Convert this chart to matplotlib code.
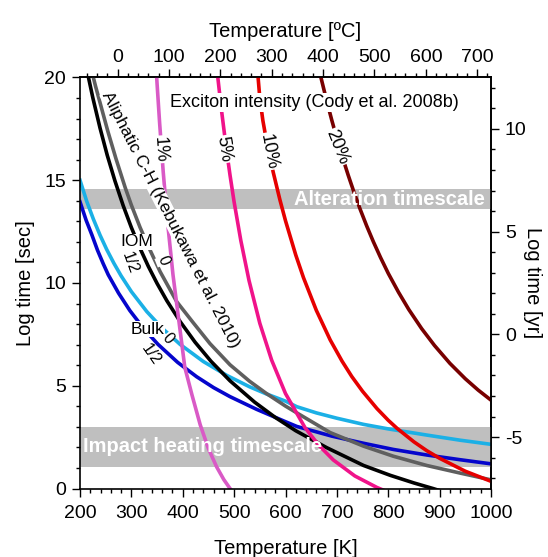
import matplotlib
matplotlib.use("Agg")
import matplotlib.pyplot as plt
from matplotlib.ticker import MultipleLocator

plt.rcParams["font.family"] = ["Liberation Sans", "DejaVu Sans"]
plt.rcParams["axes.unicode_minus"] = False

# Exciton intensity curves (Cody et al. 2008b): temperature [K] vs log time [sec]
T_1pct = [345, 350, 355, 362, 370, 381, 392, 404, 418, 434, 450, 466, 480, 492, 500]
y_1pct = [21.84, 19.70, 17.78, 15.40, 13.06, 10.40, 8.25, 5.9, 4.55, 3.10, 1.94, 1.05, 0.43, 0.0, -0.24]

T_5pct = [462, 466, 475, 485, 492, 500, 513, 529, 550, 573, 600, 638, 665, 693, 735, 778, 800]
y_5pct = [21.48, 20.51, 18.49, 16.50, 15.25, 13.94, 12.07, 10.12, 8.04, 6.25, 4.62, 2.96, 2.10,
          1.39, 0.61, 0.05, -0.18]

T_10pct = [546, 550, 556, 566, 576, 589, 600, 620, 635, 660, 687, 710, 729, 750, 778, 800, 817,
           850, 875, 900, 950, 1000]
y_10pct = [20.2, 19.0, 17.9, 16.5, 15.4, 14.06, 13.03, 11.36, 10.26, 8.67, 7.23, 6.20, 5.45, 4.73,
           3.89, 3.32, 2.93, 2.27, 1.84, 1.47, 0.84, 0.35]

T_20pct = [665, 669, 680, 690, 700, 710, 722, 733, 745, 758, 771, 785, 800, 820, 840, 865, 890,
           920, 950, 975, 1000]
y_20pct = [20.43, 20.0, 18.88, 17.93, 17.03, 16.19, 15.25, 14.44, 13.61, 12.78, 12.01, 11.24, 10.47,
           9.55, 8.71, 7.78, 6.96, 6.09, 5.34, 4.79, 4.30]

# Aliphatic C-H (Kebukawa et al. 2010): IOM order 1/2 and 0
T_iom_half = [205, 215, 225, 239, 253, 268, 284, 300, 317, 333, 350, 369, 395, 424, 455, 492,
              540, 580, 620, 680, 752, 804, 850, 887, 910]
y_iom_half = [21.46, 20.18, 19.01, 17.54, 16.22, 14.97, 13.77, 12.70, 11.68, 10.81, 9.98, 9.14,
              8.12, 7.12, 6.19, 5.24, 4.20, 3.46, 2.81, 1.99, 1.12, 0.64, 0.27, 0.0, -0.18]

T_iom_zero = [220, 230, 242, 254, 270, 288, 300, 317, 336, 356, 388, 420, 453, 492, 530, 563,
              600, 622, 687, 752, 810, 875, 940, 1000]
y_iom_zero = [20.6, 19.6, 18.5, 17.4, 16.05, 14.64, 13.79, 12.70, 11.62, 10.55, 9.1, 8.08, 7.05,
              6.02, 5.22, 4.62, 4.01, 3.68, 2.72, 2.06, 1.57, 1.12, 0.75, 0.42]

# Bulk order 0 and 1/2
T_bulk_zero = [200, 213, 226, 239, 252, 266, 280, 300, 330, 360, 395, 440, 486, 530, 563,
               600, 622, 660, 700, 752, 800, 875, 940, 1000]
y_bulk_zero = [15.0, 13.98, 13.11, 12.33, 11.63, 10.96, 10.35, 9.58, 8.61, 7.80, 7.01, 6.18, 5.50,
               4.95, 4.60, 4.25, 3.98, 3.68, 3.42, 3.12, 2.90, 2.60, 2.35, 2.15]

T_bulk_half = [200, 212, 223, 234, 245, 255, 275, 297, 325, 352, 390, 427, 460, 492, 544,
               600, 622, 690, 752, 810, 875, 940, 1000]
y_bulk_half = [13.95, 13.05, 12.35, 11.6, 10.95, 10.40, 9.51, 8.66, 7.75, 7.01, 6.14, 5.44, 4.91,
               4.47, 3.85, 3.25, 3.02, 2.55, 2.2, 1.9, 1.63, 1.40, 1.20]

# timescale bands [log sec]
alteration_band = (13.6, 14.55)
impact_band = (1.05, 3.0)

LOG_YR = 7.499  # log10(seconds per year)

fig = plt.figure(figsize=(5.48, 5.57), dpi=100)
ax = fig.add_axes([80 / 548, 68.5 / 557, 411 / 548, 411 / 557])

ax.axhspan(*alteration_band, color="#bfbfbf", lw=0, zorder=1)
ax.axhspan(*impact_band, color="#bfbfbf", lw=0, zorder=1)

lw = 2.6
curves = [
    (T_bulk_zero, y_bulk_zero, "#1bb0e6"),
    (T_bulk_half, y_bulk_half, "#0505cc"),
    (T_iom_zero, y_iom_zero, "#5f5f5f"),
    (T_iom_half, y_iom_half, "#000000"),
    (T_1pct, y_1pct, "#d95ac6"),
    (T_5pct, y_5pct, "#f0138a"),
    (T_10pct, y_10pct, "#e60000"),
    (T_20pct, y_20pct, "#780000"),
]
for T, y, c in curves:
    ax.plot(T, y, color=c, lw=lw, zorder=2, solid_joinstyle="round")

box = dict(facecolor="white", edgecolor="none", pad=0.6)
thin = dict(facecolor="white", edgecolor="none", pad=0.1)
ax.text(375, 18.8, "Exciton intensity (Cody et al. 2008b)", fontsize=13, va="center",
        ha="left", bbox=box, zorder=3)
for xt, yt, s, rot in [(355, 16.5, "1%", -86), (479, 16.5, "5%", -81),
                       (566, 16.4, "10%", -79), (700, 16.6, "20%", -68)]:
    ax.text(xt, yt, s, fontsize=13, rotation=rot, ha="center", va="center",
            rotation_mode="anchor", bbox=box, zorder=3)

ax.text(377, 13.1, "Aliphatic C-H (Kebukawa et al. 2010)", fontsize=12.5, rotation=-63,
        ha="center", va="center", rotation_mode="anchor", bbox=thin, zorder=3)
ax.text(310, 12.0, "IOM", fontsize=12.5, ha="center", va="center", bbox=box, zorder=3)
ax.text(297, 11.0, "1/2", fontsize=11.5, rotation=-70, ha="center", va="center",
        rotation_mode="anchor", bbox=thin, zorder=3)
ax.text(362, 11.1, "0", fontsize=11.5, rotation=-68, ha="center", va="center",
        rotation_mode="anchor", bbox=thin, zorder=3)
ax.text(331, 7.76, "Bulk", fontsize=12.5, ha="center", va="center", bbox=box, zorder=3)
ax.text(371, 7.3, "0", fontsize=11.5, rotation=-50, ha="center", va="center",
        rotation_mode="anchor", bbox=thin, zorder=3)
ax.text(338, 6.5, "1/2", fontsize=11.5, rotation=-55, ha="center", va="center",
        rotation_mode="anchor", bbox=thin, zorder=3)

ax.text(988, sum(alteration_band) / 2, "Alteration timescale", color="white", fontsize=14.5,
        fontweight="bold", ha="right", va="center", zorder=4)
ax.text(206, sum(impact_band) / 2, "Impact heating timescale", color="white", fontsize=14.5,
        fontweight="bold", ha="left", va="center", zorder=4)

ax.set_xlim(200, 1000)
ax.set_ylim(0, 20)
ax.xaxis.set_major_locator(MultipleLocator(100))
ax.xaxis.set_minor_locator(MultipleLocator(20))
ax.yaxis.set_major_locator(MultipleLocator(5))
ax.yaxis.set_minor_locator(MultipleLocator(1))
ax.tick_params(which="both", direction="out", labelsize=14, width=1, top=False, right=False)
ax.tick_params(which="major", length=6)
ax.tick_params(which="minor", length=3)
ax.tick_params(axis="x", pad=6)
ax.tick_params(axis="y", pad=4)
ax.set_xlabel("Temperature [K]", fontsize=14.5, labelpad=12)
ax.set_ylabel("Log time [sec]", fontsize=14.5, labelpad=7)

top = ax.secondary_xaxis("top", functions=(lambda k: k - 273.15, lambda c: c + 273.15))
top.xaxis.set_major_locator(MultipleLocator(100))
top.xaxis.set_minor_locator(MultipleLocator(20))
top.tick_params(which="both", direction="out", labelsize=14, width=1, pad=2)
top.tick_params(which="major", length=6)
top.tick_params(which="minor", length=3)
top.set_xlabel("Temperature [ºC]", fontsize=14.5, labelpad=9)

right = ax.secondary_yaxis("right", functions=(lambda s: s - LOG_YR, lambda yr: yr + LOG_YR))
right.yaxis.set_major_locator(MultipleLocator(5))
right.yaxis.set_minor_locator(MultipleLocator(1))
right.tick_params(which="both", direction="out", labelsize=14, width=1, pad=4)
right.tick_params(which="major", length=6)
right.tick_params(which="minor", length=3)
right.set_ylabel("Log time [yr]", fontsize=14.5, rotation=270, labelpad=11)

for sp in ax.spines.values():
    sp.set_linewidth(1.2)
top.spines["top"].set_linewidth(1.2)
right.spines["right"].set_linewidth(1.2)

fig.savefig("out.png", dpi=100)
